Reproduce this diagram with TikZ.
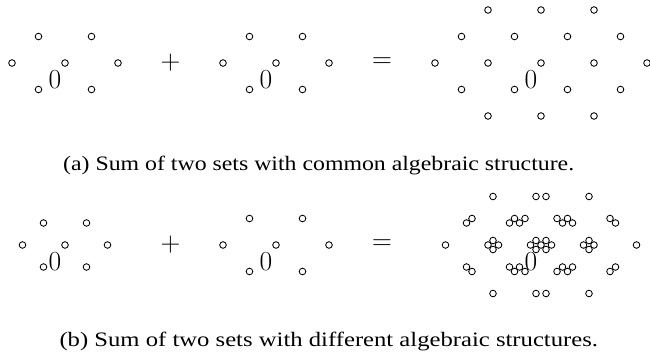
\documentclass[tikz,border=0pt]{standalone}
\usepackage{fontspec}
\newfontfamily\capfonta[FakeStretch=1.161]{Liberation Serif}
\newfontfamily\capfontb[FakeStretch=1.203]{Liberation Serif}
\newfontfamily\symfont{Latin Modern Roman}
\usepackage{tikz}
\usetikzlibrary{calc}

\begin{document}
\begin{tikzpicture}[x=1pt, y=1pt,
		elem/.style={line width=0.85pt, radius=3.3pt},
		sym/.style={inner sep=0pt, font=\symfont\fontsize{27.5}{30}\selectfont},
		captext/.style={anchor=base, inner sep=0pt, font=\fontsize{20.5}{24}\selectfont}]
		\useasboundingbox (0,0) rectangle (650,360);
		% offsets: A the wide hexagon, B the smaller one
		\def\h{26.5}
		\def\setA{0/0, 53/0, -53/0, 26.5/26.5, -26.5/26.5, 26.5/-26.5, -26.5/-26.5}
		\def\setB{0/0, 42.5/0, -42.5/0, 21.5/22, -21.5/22, 21.5/-22, -21.5/-22}
		% centres of the six sets
		\coordinate (LA) at (65,297); \coordinate (MA) at (276,297); \coordinate (RA) at (541,297);
		\coordinate (LB) at (65,115); \coordinate (MB) at (276,115); \coordinate (RB) at (541,115);
		% (a) A + A
		\foreach \ax/\ay in \setA {
			\draw[elem] ($(LA)+(\ax,\ay)$) circle;
			\draw[elem] ($(MA)+(\ax,\ay)$) circle;
		}
		% A + A is the 19 point hexagon, rows n = -2..2
		\foreach \n in {-2,...,2} {
			\pgfmathtruncatemacro{\lo}{abs(\n)-4}
			\pgfmathtruncatemacro{\nx}{\lo+2}
			\pgfmathtruncatemacro{\hi}{-\lo}
			\foreach \m in {\lo,\nx,...,\hi}
				\draw[elem] ($(RA)+(\m*\h,\n*\h)$) circle;
		}
		% (b) B + A
		\foreach \bx/\by in \setB {
			\draw[elem] ($(LB)+(\bx,\by)$) circle;
			\foreach \ax/\ay in \setA
				\draw[elem] ($(RB)+(\ax+\bx,\ay+\by)$) circle;
		}
		\foreach \ax/\ay in \setA
			\draw[elem] ($(MB)+(\ax,\ay)$) circle;
		% origins
		\node[sym] (zLA) at ($(LA)+(-10,-17)$) {0};
		\node[sym] (zMA) at ($(MA)+(-10,-17)$) {0};
		\node[sym] (zRA) at ($(RA)+(-10,-17)$) {0};
		\node[sym] (zLB) at ($(LB)+(-10,-17)$) {0};
		\node[sym] (zMB) at ($(MB)+(-10,-17)$) {0};
		\node[sym] (zRB) at ($(RB)+(-10,-17)$) {0};
		% operators
		\node[sym] (plusA) at (170.5,297) {+};
		\node[sym] (eqA) at (382,297.5) {=};
		\node[sym] (plusB) at (170.5,115) {+};
		\node[sym] (eqB) at (382,115.5) {=};
		% captions
		\node[captext] (capA) at (318.7,189.5) {\capfonta (a) Sum of two sets with common algebraic structure.};
		\node[captext] (capB) at (328.8,13.5) {\capfontb (b) Sum of two sets with different algebraic structures.};
	\end{tikzpicture}
\end{document}
